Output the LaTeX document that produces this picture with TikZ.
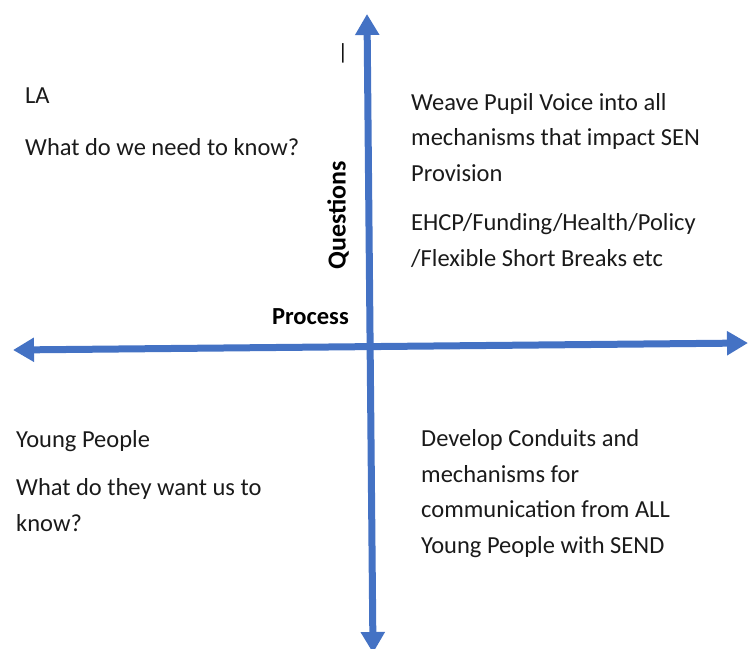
\documentclass[tikz,border=0pt]{standalone}
\usepackage{fontspec}
\setmainfont{Carlito}
\usetikzlibrary{arrows.meta}
\definecolor{axisblue}{HTML}{4472C4}
\definecolor{txt}{HTML}{1A1A1A}
\tikzset{
  axis/.style={draw=axisblue, line width=7pt, {Triangle[width=23pt,length=21pt]}-{Triangle[width=23pt,length=21pt]}},
  body/.style={inner sep=0pt, anchor=base west, align=left, text=txt, font=\fontsize{24.5}{35.5}\selectfont},
  boldlbl/.style={inner sep=0pt, text=black, font=\fontsize{24.5}{28}\selectfont\bfseries},
}
\begin{document}
\begin{tikzpicture}[x=1pt,y=-1pt]
\useasboundingbox (0,0) rectangle (749,648);
\coordinate (vtop) at (367,14);
\coordinate (vbot) at (373,653);
\coordinate (hleft) at (13,350);
\coordinate (hright) at (748,343);
\draw[axis] (vbot) -- (vtop);
\draw[axis] (hleft) -- (hright);
\node[body] (la) at (25,103) {LA};
\node[body] (laq) at (25,155) {What do we need to know?};
\node[body] (weave) at (411,181) {Weave Pupil Voice into all\\mechanisms that impact SEN\\Provision};
\node[body] (ehcp) at (411,266) {EHCP/Funding/Health/Policy\\/Flexible Short Breaks etc};
\node[body] (yp) at (16,447) {Young People};
\node[body] (ypq) at (16,531) {What do they want us to\\know?};
\node[body] (dev) at (421,553) {Develop Conduits and\\mechanisms for\\communication from ALL\\Young People with SEND};
\node[boldlbl, anchor=base east] (proc) at (349,324) {Process};
\node[boldlbl, rotate=90, font=\fontsize{26}{30}\selectfont\bfseries] (quest) at (338,215) {Questions};
\node[inner sep=0pt, anchor=center, font=\fontsize{22}{26}\selectfont] (cursor) at (343,53) {|};
\end{tikzpicture}
\end{document}
